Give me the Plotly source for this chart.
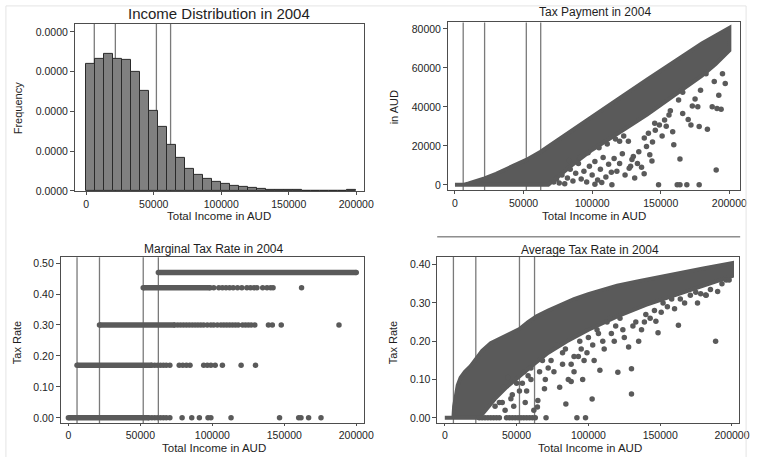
import plotly.graph_objects as go

W, H = 764, 457

# ---------------- data ----------------
# Income tax thresholds (AUD) for 2004
thresholds = [6000, 21600, 52000, 62500]

# Histogram of total income: 30 bins of equal width over 0..200000, density scale
bin_width = 200000 / 30
hist_density = [1.596e-5, 1.665e-5, 1.722e-5, 1.665e-5, 1.645e-5, 1.498e-5, 1.257e-5,
                1.012e-5, 0.804e-5, 0.584e-5, 0.416e-5, 0.278e-5, 0.208e-5, 0.147e-5,
                0.110e-5, 0.086e-5, 0.065e-5, 0.053e-5, 0.037e-5, 0.025e-5, 0.016e-5,
                0.012e-5, 0.012e-5, 0.010e-5, 0.005e-5, 0.005e-5, 0.004e-5, 0.004e-5,
                0.004e-5, 0.016e-5]
hist_centers = [bin_width * (i + 0.5) for i in range(len(hist_density))]

# Tax payment: outline of the densely populated band (income, tax)
tax_band_income = [0, 6000, 10000, 15000, 21600, 30000, 40000, 52000, 62500, 80000, 100000,
                   120000, 140000, 160000, 180000, 200000, 200000, 190000, 180000, 160000,
                   140000, 120000, 100000, 85000, 75000, 68000, 0]
tax_band_tax = [0, 0, 700, 1700, 3300, 5700, 8800, 12800, 17000, 25500, 35000,
                44500, 54000, 63500, 72500, 80500, 69000, 62000, 56000, 46000,
                36000, 27000, 18000, 10000, 4000, 0, 0]
# Tax payment: individual scattered observations below the band
tax_pts_income = [190400, 178000, 169000, 164000, 162000, 148400, 164000, 159500, 158700,
                  173000, 177000, 172000, 178000, 184000, 187500, 191000, 194000, 192300,
                  166000, 152800, 156000, 149000, 145600, 139600, 142000, 143600, 126400,
                  120000, 114400, 137900, 107000, 102000, 130000, 133000, 128000,
                  72000, 74000, 76000, 78000, 80000, 82000, 84000, 86000, 88000, 90000,
                  92000, 94000, 96000, 98000, 100000, 102000, 104000, 106000, 108000,
                  110000, 112000, 114000, 116000, 118000, 120000, 122000, 124000, 127000,
                  129000, 131000, 134000, 136000, 138000, 141000, 144000, 146000, 151000,
                  154000, 157000, 163000, 166000, 170000, 175000, 179000, 183000, 189000,
                  195000, 197000, 83000, 91000, 97000, 105000, 111000, 117000, 123000]
tax_pts_tax = [7600, 0, 0, 0, 0, 0, 13300, 20600, 27300,
               40500, 40000, 30700, 29900, 28500, 40000, 39200, 38800, 45900,
               36600, 33300, 35800, 30700, 31600, 19700, 15500, 12200, 22300,
               22300, 0, 5700, 1200, 300, 14500, 11000, 9500,
               1500, 3000, 1000, 5000, 500, 3500, 8000, 2000, 6000, 11000,
               3000, 7000, 1500, 9500, 5000, 12000, 2500, 8000, 14000,
               4000, 10500, 6500, 13500, 7000, 11000, 16000, 5000, 8500,
               13000, 3500, 17000, 9000, 24000, 26500, 22000, 28000, 25000,
               30000, 38000, 43500, 47500, 33500, 44000, 48500, 57000, 53000,
               57000, 52000, 12500, 14000, 16500, 19000, 21000, 23500, 25000]

# Marginal tax rate: bracket rates and the income span where each is densely observed
rate_levels = [0.0, 0.17, 0.30, 0.42, 0.47]
dense_from = [0, 6000, 21600, 52000, 62500]
dense_to = [56000, 58000, 74000, 98500, 200000]
mtr_pts_income = [
    [58000, 60000, 62000, 64000, 66000, 68000, 70500, 79000, 85700, 91000, 97000, 99000,
     113000, 146700, 160000, 161600, 166900, 175500],
    [60000, 62000, 64000, 66000, 68000, 70500, 77000, 79500, 82000, 84500, 94000, 96500,
     99000, 102000, 107000, 120000, 130000],
    [76000, 78000, 80000, 82000, 84000, 86000, 88000, 90000, 92000, 94000, 96500, 99000,
     101000, 103500, 106000, 108000, 110000, 112000, 114000, 116000, 118000, 121000,
     123000, 125000, 127000, 129500, 139000, 141700, 147900, 188000],
    [101000, 104500, 107000, 109500, 112000, 114500, 117500, 120500, 124000, 126500,
     129000, 131000, 135000, 138000, 140500, 142200, 162000],
    [],
]

# Average tax rate: outline of the densely populated band (income, rate)
atr_band_income = [0, 6000, 6500, 7500, 9000, 11000, 14000, 18000, 21600, 26000, 32000,
                   40000, 46000, 52000, 58000, 64000, 72000, 80000, 90000, 100000, 110000,
                   120000, 135000, 150000, 165000, 180000, 200000, 200000, 180000, 160000,
                   140000, 120000, 100000, 85000, 72000, 62000, 52000, 43000, 35000,
                   28000, 24000, 0]
atr_band_rate = [0.0, 0.0, 0.03, 0.06, 0.085, 0.105, 0.12, 0.135, 0.155, 0.175, 0.195,
                 0.21, 0.22, 0.232, 0.25, 0.265, 0.28, 0.293, 0.31, 0.323, 0.335,
                 0.345, 0.357, 0.367, 0.379, 0.39, 0.404, 0.37, 0.345, 0.32,
                 0.295, 0.265, 0.23, 0.20, 0.17, 0.14, 0.11, 0.08, 0.05,
                 0.02, 0.0, 0.0]
# Average tax rate: individual scattered observations below the band
atr_pts_income = [24000, 26000, 28000, 30000, 32000, 34000, 36000, 38000, 43000, 45000,
                  47000, 49000, 51000, 53000, 55000, 57000, 59000, 61000, 63000, 70500,
                  92000, 98000, 188600, 162700, 174800, 178200, 181700, 148500, 147000,
                  150700, 130000, 130000, 120500, 108000, 102600, 84300, 69400, 64800,
                  64500, 60000, 57000, 55000, 50000, 47000, 44000, 41000, 38000, 35000,
                  86000, 88000, 90000, 93000, 95000, 97000, 100000, 103000, 106000,
                  110000, 113000, 116000, 119000, 122000, 125000, 133000, 137000, 140000,
                  143000, 155000, 158000, 167000, 185000, 193000, 196000, 74000, 78000,
                  82000, 40000, 42000, 46000, 48000, 52000, 54000, 56000, 58000, 60000,
                  62000, 66000, 68000, 70000, 72000, 76000, 80000, 82000, 84000, 88000,
                  90000, 94000, 96000, 99000, 104000, 107000, 111000, 115000, 118000,
                  124000, 128000, 131000, 135000, 139000, 146000, 152000, 160000, 164000,
                  171000, 176000, 182000, 190000, 198000]
atr_pts_rate = [0, 0, 0, 0, 0, 0, 0, 0, 0, 0,
                0, 0, 0, 0, 0, 0, 0, 0, 0, 0,
                0, 0, 0.20, 0.242, 0.328, 0.324, 0.321, 0.222, 0.252,
                0.276, 0.128, 0.062, 0.119, 0.124, 0.049, 0.036, 0.076, 0.045,
                0.028, 0.10, 0.07, 0.12, 0.09, 0.06, 0.105, 0.08, 0.04, 0.03,
                0.10, 0.14, 0.12, 0.16, 0.18, 0.15, 0.21, 0.19, 0.23,
                0.20, 0.25, 0.22, 0.24, 0.26, 0.21, 0.25, 0.23, 0.27,
                0.26, 0.29, 0.31, 0.30, 0.335, 0.35, 0.36, 0.15, 0.19,
                0.17, 0.04, 0.02, 0.05, 0.03, 0.07, 0.09, 0.04, 0.11, 0.13,
                0.02, 0.12, 0.15, 0.10, 0.13, 0.12, 0.08, 0.14, 0.18, 0.095,
                0.16, 0.20, 0.10, 0.17, 0.15, 0.22, 0.18, 0.26, 0.20,
                0.23, 0.185, 0.24, 0.20, 0.25, 0.28, 0.30, 0.285, 0.31,
                0.32, 0.30, 0.32, 0.33, 0.36]

# ---------------- styling ----------------
FONT = "Liberation Sans, Arial, sans-serif"
DOT = "#5a5a5a"
AXIS = "#4d4d4d"
TXT = "#1e1e1e"
VLINE = "#7a7a7a"
MS = 5.5


def px_x(p):
    return p / W


def px_y(p):
    return 1 - p / H


fig = go.Figure()

# Histogram
fig.add_trace(go.Bar(x=hist_centers, y=hist_density, width=bin_width,
                     marker=dict(color="#808080", line=dict(color="#2a2a2a", width=1)),
                     xaxis="x", yaxis="y", showlegend=False))

# Tax payment
fig.add_trace(go.Scatter(x=tax_band_income, y=tax_band_tax, mode="lines", fill="toself",
                         fillcolor=DOT, line=dict(color=DOT, width=4),
                         xaxis="x2", yaxis="y2", showlegend=False))
fig.add_trace(go.Scatter(x=tax_pts_income, y=tax_pts_tax, mode="markers",
                         marker=dict(color=DOT, size=MS),
                         xaxis="x2", yaxis="y2", showlegend=False))

# Marginal tax rate rows
for lvl, a, b, pts in zip(rate_levels, dense_from, dense_to, mtr_pts_income):
    fig.add_trace(go.Scatter(x=[a, b], y=[lvl, lvl], mode="lines+markers",
                             line=dict(color=DOT, width=MS),
                             marker=dict(color=DOT, size=MS),
                             xaxis="x3", yaxis="y3", showlegend=False))
    if pts:
        fig.add_trace(go.Scatter(x=pts, y=[lvl] * len(pts), mode="markers",
                                 marker=dict(color=DOT, size=MS),
                                 xaxis="x3", yaxis="y3", showlegend=False))

# Average tax rate
fig.add_trace(go.Scatter(x=atr_band_income, y=atr_band_rate, mode="lines", fill="toself",
                         fillcolor=DOT, line=dict(color=DOT, width=4),
                         xaxis="x4", yaxis="y4", showlegend=False))
fig.add_trace(go.Scatter(x=atr_pts_income, y=atr_pts_rate, mode="markers",
                         marker=dict(color=DOT, size=MS),
                         xaxis="x4", yaxis="y4", showlegend=False))

common = dict(showline=True, mirror=True, linecolor=AXIS, linewidth=1, ticks="outside",
              ticklen=4, tickcolor=AXIS, tickwidth=1, showgrid=False, zeroline=False,
              tickfont=dict(family=FONT, size=10.5, color=TXT))
xt = dict(tickvals=[0, 50000, 100000, 150000, 200000],
          ticktext=["0", "50000", "100000", "150000", "200000"])

panels = {
    "": dict(xd=[76, 369], yd=[24.2, 193.5], xr=[-8280, 205850], yr=[0, 2.1e-5], tl=3,
             ytick=dict(tickvals=[0, 5e-6, 1e-5, 1.5e-5, 2e-5], tickformat=".4f")),
    "2": dict(xd=[454, 750], yd=[22.7, 192.7], xr=[-5036, 207900], yr=[-2734, 83340], tl=3,
              ytick=dict(tickvals=[0, 20000, 40000, 60000, 80000],
                         ticktext=["0", "20000", "40000", "60000", "80000"])),
    "3": dict(xd=[61.7, 369], yd=[260.7, 429], xr=[-5211, 205500], yr=[-0.0179, 0.5188], tl=2,
              ytick=dict(tickvals=[0, 0.1, 0.2, 0.3, 0.4, 0.5], tickformat=".2f")),
    "4": dict(xd=[443.3, 749.3], yd=[260, 429], xr=[-5086, 205223], yr=[-0.01446, 0.421], tl=2,
              ytick=dict(tickvals=[0, 0.1, 0.2, 0.3, 0.4], tickformat=".2f")),
}

layout = dict(width=W, height=H, margin=dict(l=0, r=0, t=0, b=0),
              paper_bgcolor="white", plot_bgcolor="white", showlegend=False,
              bargap=0)
shapes = []
for k, p in panels.items():
    xa, ya = "xaxis" + k, "yaxis" + k
    layout[xa] = dict(common, domain=[px_x(p["xd"][0]), px_x(p["xd"][1])], range=p["xr"],
                      anchor="y" + k, **xt)
    layout[xa]["ticklen"] = p["tl"]
    layout[ya] = dict(common, domain=[px_y(p["yd"][1]), px_y(p["yd"][0])], range=p["yr"],
                      anchor="x" + k, **p["ytick"])
    for t in thresholds:
        shapes.append(dict(type="line", xref="x" + k, yref="y" + k + " domain",
                           x0=t, x1=t, y0=0, y1=1, layer="below",
                           line=dict(color=VLINE, width=1.3)))

# outer light frame and the rule above the last panel
shapes.append(dict(type="rect", xref="paper", yref="paper", x0=px_x(6), x1=px_x(756),
                   y0=px_y(470), y1=px_y(6), line=dict(color="#e4e4e4", width=1)))
shapes.append(dict(type="line", xref="paper", yref="paper", x0=px_x(443), x1=px_x(750),
                   y0=px_y(240), y1=px_y(240), line=dict(color="#555555", width=1)))
layout["shapes"] = shapes


def label(text, x, y, size, angle=0):
    return dict(text=text, x=px_x(x), y=px_y(y), xref="paper", yref="paper",
                showarrow=False, textangle=angle, xanchor="center", yanchor="middle",
                font=dict(family=FONT, size=size, color=TXT))


layout["annotations"] = [
    label("Income Distribution in 2004", 222, 14, 15),
    label("Tax Payment in 2004", 603, 12, 12),
    label("Marginal Tax Rate in 2004", 217, 252, 12),
    label("Average Tax Rate in 2004", 598, 253, 12),
    label("Total Income in AUD", 222, 219, 11.5),
    label("Total Income in AUD", 602, 219, 11.5),
    label("Total Income in AUD", 217, 454, 11.5),
    label("Total Income in AUD", 598, 454, 11.5),
    label("Frequency", 18, 110, 11, -90),
    label("in AUD", 399, 109, 11, -90),
    label("Tax Rate", 18, 347, 11, -90),
    label("Tax Rate", 399, 347, 11, -90),
]

fig.update_layout(**layout)
fig.write_html("out.html")
